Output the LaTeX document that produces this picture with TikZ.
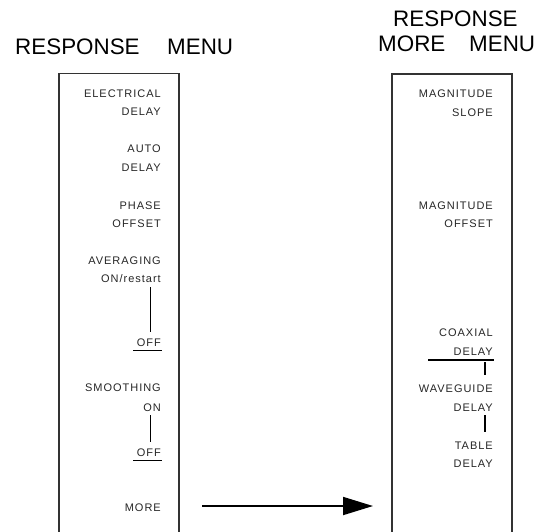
\documentclass[tikz,border=0pt]{standalone}
\usepackage{fontspec}
\setmainfont{Liberation Sans}
\newfontfamily\menufont[LetterSpace=9]{Liberation Sans}
\usetikzlibrary{arrows.meta}
\begin{document}
\begin{tikzpicture}[x=1pt,y=-1pt,
  item/.style={anchor=east,inner sep=0pt,font=\menufont\fontsize{11}{12}\selectfont,text height=8pt,text depth=0pt,text=black!85},
  title/.style={anchor=west,inner sep=0pt,font=\fontsize{22.4}{26}\selectfont,text height=16.2pt,text depth=0pt},
  frame/.style={line width=1.3pt,draw=black!80},
  link/.style={line width=1.2pt},
  bigarrow/.style={line width=1.8pt,-{Triangle[length=30pt,width=18pt]}}]
\useasboundingbox (0,0) rectangle (537,531);
% titles
\node[title] (t1a) at (15,46.5) {RESPONSE};
\node[title] (t1b) at (167,46.5) {MENU};
\node[title] (t2a) at (393,18.4) {RESPONSE};
\node[title] (t2b) at (378,43) {MORE};
\node[title] (t2c) at (469,43) {MENU};
% frames
\draw[frame] (59,533) -- (59,73.5) -- (179,73.5) -- (179,533);
\draw[frame] (392,533) -- (392,74) -- (512,74) -- (512,533);
% left menu
\node[item] (l1a) at (161,93.5) {ELECTRICAL};
\node[item] (l1b) at (161,111.7) {DELAY};
\node[item] (l2a) at (161,148) {AUTO};
\node[item] (l2b) at (161,167) {DELAY};
\node[item] (l3a) at (161,205) {PHASE};
\node[item] (l3b) at (161,223) {OFFSET};
\node[item] (l4a) at (161,260) {AVERAGING};
\node[item] (l4b) at (161,278.5) {ON/restart};
\node[item] (l4c) at (161,342) {OFF};
\node[item] (l5a) at (161,387) {SMOOTHING};
\node[item] (l5b) at (161,407) {ON};
\node[item] (l5c) at (161,452) {OFF};
\node[item] (l6) at (161,507) {MORE};
\coordinate (a1) at (150.7,287);
\coordinate (a2) at (150.7,332);
\draw[link] (a1) -- (a2);
\coordinate (u1a) at (133,350.5);
\coordinate (u1b) at (161.5,350.5);
\draw[link] (u1a) -- (u1b);
\coordinate (s1) at (150.7,415);
\coordinate (s2) at (150.7,442);
\draw[link] (s1) -- (s2);
\coordinate (u2a) at (133,460.5);
\coordinate (u2b) at (161.5,460.5);
\draw[link] (u2a) -- (u2b);
% right menu
\node[item] (r1a) at (493,93) {MAGNITUDE};
\node[item] (r1b) at (493,112) {SLOPE};
\node[item] (r2a) at (493,205) {MAGNITUDE};
\node[item] (r2b) at (493,223) {OFFSET};
\node[item] (r3a) at (493,332.7) {COAXIAL};
\node[item] (r3b) at (493,351.7) {DELAY};
\node[item] (r4a) at (493,388) {WAVEGUIDE};
\node[item] (r4b) at (493,407) {DELAY};
\node[item] (r5a) at (493,445) {TABLE};
\node[item] (r5b) at (493,463) {DELAY};
\coordinate (c1) at (428,360);
\coordinate (c2) at (494,360);
\draw[link] (c1) -- (c2);
\coordinate (w1) at (485,362);
\coordinate (w2) at (485,375);
\draw[link] (w1) -- (w2);
\coordinate (w3) at (485,415);
\coordinate (w4) at (485,432);
\draw[link] (w3) -- (w4);
% arrow
\coordinate (as) at (202,506);
\coordinate (ae) at (373,506);
\draw[bigarrow] (as) -- (ae);
\end{tikzpicture}
\end{document}
